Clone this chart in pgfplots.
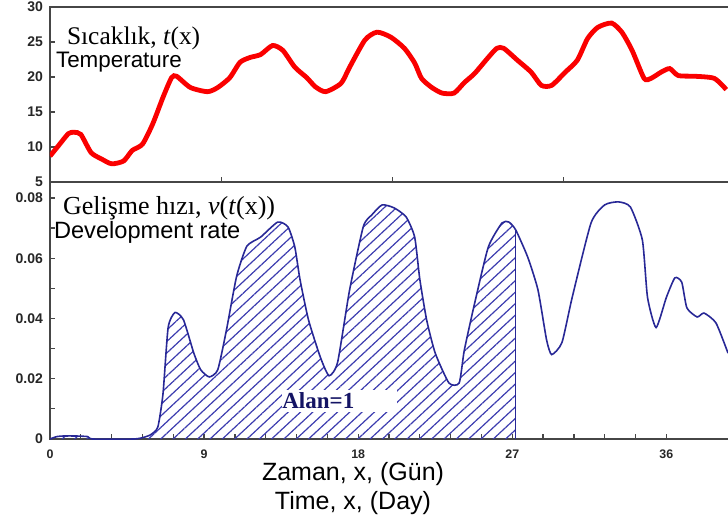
\documentclass[border=0pt]{standalone}
\usepackage{fontspec}
\setmainfont{Liberation Sans}
\newfontfamily\serifr{Liberation Serif}
\usepackage{pgfplots}
\usepackage{pgfplotstable}
\pgfplotsset{compat=1.18}
\usepgfplotslibrary{fillbetween}
\usetikzlibrary{patterns.meta}
\definecolor{tred}{RGB}{250,0,0}
\definecolor{rblue}{RGB}{40,40,150}
\definecolor{hblue}{RGB}{60,60,175}
\definecolor{alan}{RGB}{20,20,100}
\definecolor{frame}{RGB}{70,70,70}

% temperature t(x), day vs degrees
\pgfplotstableread{
x t
0 8.7
0.5 10.2
1.07 11.9
1.4 12.1
1.8 11.8
2.4 9.2
3.0 8.3
3.6 7.6
4.3 8.0
4.8 9.5
5.4 10.4
6.0 13.3
6.6 17.1
7.1 19.9
7.4 20.1
8.2 18.5
9.2 17.9
9.8 18.5
10.5 19.9
11.1 22.1
11.7 22.8
12.3 23.2
13.0 24.5
13.6 23.8
14.3 21.4
15.0 19.9
15.5 18.6
16.1 17.9
17.0 19.1
17.5 21.4
18.4 25.3
19.1 26.4
19.9 25.7
20.7 24.1
21.3 22.0
21.7 19.8
22.3 18.5
22.9 17.7
23.6 17.7
24.2 19.2
24.8 20.5
25.6 22.8
26.1 24.1
26.5 24.1
27.3 22.4
28.1 20.7
28.7 18.8
29.3 18.8
30.1 20.7
30.8 22.4
31.4 25.5
32.0 27.1
32.8 27.7
33.4 26.4
34.0 23.8
34.7 19.8
35.1 19.8
35.7 20.7
36.2 21.2
36.7 20.2
37.7 20.1
38.8 19.8
39.5 18.2
}\temp

% development rate v(t(x))
\pgfplotstableread{
x v
0 0
0.4 0.0008
0.8 0.001
1.5 0.001
2.2 0.0008
2.5 0
4.9 0
5.5 0.0006
5.9 0.0015
6.3 0.004
6.6 0.015
6.9 0.037
7.3 0.042
7.8 0.0395
8.4 0.0285
8.8 0.023
9.3 0.0206
9.8 0.023
10.3 0.036
10.9 0.054
11.5 0.064
12.3 0.067
13.3 0.072
13.9 0.0704
14.3 0.0637
14.6 0.053
15.1 0.0395
15.8 0.027
16.3 0.021
16.8 0.0255
17.5 0.0495
18.3 0.0705
18.8 0.0744
19.4 0.0777
20.1 0.0767
20.8 0.0737
21.3 0.067
21.6 0.053
22.0 0.0395
22.5 0.0285
23.3 0.0186
23.9 0.0186
24.2 0.0295
24.8 0.045
25.6 0.0637
26.4 0.0717
26.8 0.072
27.2 0.0694
27.9 0.0604
28.5 0.0495
29.0 0.033
29.3 0.028
29.9 0.032
30.5 0.047
31.6 0.0717
32.4 0.0777
33.2 0.0787
33.9 0.077
34.6 0.066
34.9 0.047
35.4 0.037
36.0 0.047
36.5 0.0535
36.9 0.052
37.2 0.0435
37.8 0.0405
38.2 0.0418
38.9 0.0385
39.6 0.0285
}\rate

\pgfplotsset{panel/.style={scale only axis, width=346.7pt, xmin=0, xmax=40.5,
  axis line style={frame, line width=1pt}, tick style={frame, line width=0.6pt},
  major tick length=2.5pt, minor tick length=2.5pt,
  tick label style={font=\fontsize{7}{8}\selectfont\bfseries, text=black!85},
  /pgf/number format/assume math mode=true,
  xtick pos=left, ytick pos=left}}

\begin{document}
\begin{tikzpicture}
\begin{axis}[panel, name=bot, at={(0,0)}, anchor=south west, height=128.5pt,
  ymin=0, ymax=0.0853, ytick={0,0.02,0.04,0.06,0.08}, minor y tick num=1,
  xtick={0,9,18,27,36}, minor x tick num=4, scaled y ticks=false,
  yticklabel style={/pgf/number format/fixed, /pgf/number format/precision=2},
  xticklabel style={font=\fontsize{6.2}{7}\selectfont\bfseries, yshift=-2pt}]
\addplot[rblue, line width=0.8pt, smooth, tension=0.35, name path=rate] table[x=x,y=v] {\rate};
\addplot[draw=none, name path=zero, forget plot] coordinates {(0,0) (39.6,0)};
\addplot[draw=none, pattern={Lines[angle=43,distance=4.2pt,line width=0.6pt]}, pattern color=hblue]
  fill between[of=rate and zero, soft clip={domain=0:27.2}];
\addplot[rblue, line width=0.8pt] coordinates {(27.2,0) (27.2,0.0694)};
\node[anchor=west, fill=white, inner xsep=0pt, inner ysep=0pt, text width=57.5pt, minimum height=11pt,
  align=left, text=alan, font=\serifr\bfseries\fontsize{11.5}{12}\selectfont] at (axis cs:13.55,0.0126) {Alan=1};
\node[anchor=west, font=\serifr\fontsize{13}{14}\selectfont] at ([xshift=3pt, yshift=-13pt]rel axis cs:0,1)
  {Gelişme hızı, \textit{v}(\textit{t}(x))};
\node[anchor=west, font=\fontsize{11.8}{13}\selectfont] at ([xshift=-1.5pt, yshift=-25pt]rel axis cs:0,1)
  {Development rate};
\end{axis}
\begin{axis}[panel, at={(bot.north west)}, anchor=south west, height=87.5pt,
  ymin=5, ymax=30, ytick={5,10,...,30}, xtick={10,20,30}, xticklabels={}]
\addplot[tred, line width=2.4pt, smooth, tension=0.4] table[x=x,y=t] {\temp};
\node[anchor=west, font=\serifr\fontsize{12.7}{14}\selectfont] at ([xshift=5pt, yshift=-15.5pt]rel axis cs:0,1)
  {Sıcaklık, \textit{t}(x)};
\node[anchor=west, font=\fontsize{11.2}{12}\selectfont] at ([xshift=-0.5pt, yshift=-27.5pt]rel axis cs:0,1)
  {Temperature};
\end{axis}
\node[anchor=base, font=\fontsize{12.5}{14}\selectfont] at ([xshift=151.5pt, yshift=-20.5pt]bot.south west) {Zaman, x, (Gün)};
\node[anchor=base, font=\fontsize{12.5}{14}\selectfont] at ([xshift=151.5pt, yshift=-35pt]bot.south west) {Time, x, (Day)};
\pgfresetboundingbox
\path (bot.south west) ++(-25pt,-40.5pt) rectangle ++(364pt,260pt);
\end{tikzpicture}
\end{document}
